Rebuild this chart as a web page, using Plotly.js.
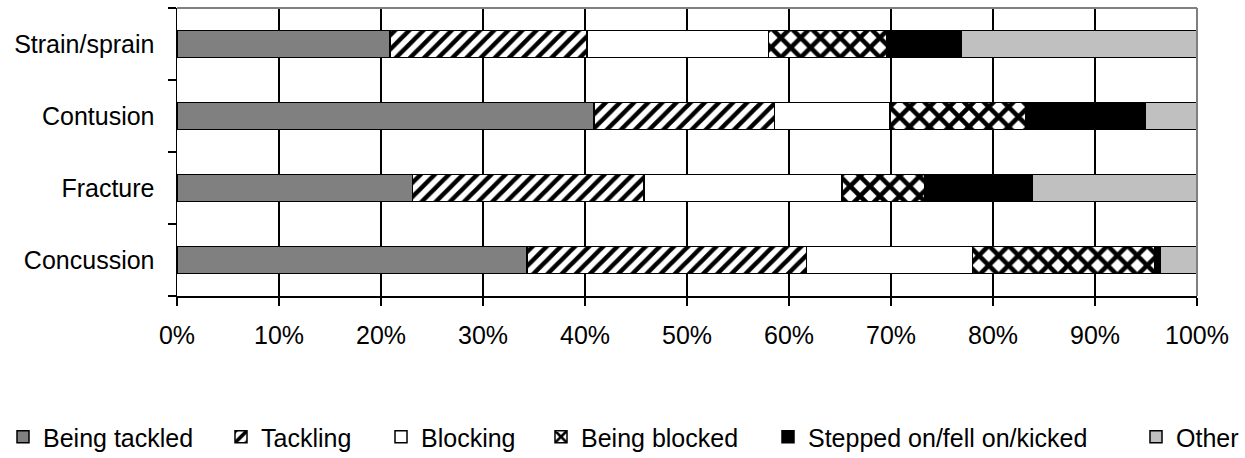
<!DOCTYPE html>
<html>
<head>
<meta charset="utf-8">
<script src="https://cdn.plot.ly/plotly-3.0.1.min.js"></script>
<style>html,body{margin:0;padding:0;background:#fff}#chart{width:1245px;height:458px}</style>
</head>
<body>
<div id="chart"></div>
<script>
// Categories (bottom to top)
const categories = ['Concussion', 'Fracture', 'Contusion', 'Strain/sprain'];
// Shares of each mechanism (fraction of 1), same order as categories
const beingTackled = [0.343, 0.231, 0.409, 0.209];
const tackling     = [0.274, 0.227, 0.177, 0.193];
const blocking     = [0.163, 0.194, 0.113, 0.178];
const beingBlocked = [0.179, 0.081, 0.133, 0.116];
const steppedOn    = [0.005, 0.105, 0.117, 0.073];
const other        = [0.036, 0.162, 0.051, 0.231];
const seriesNames = ['Being tackled', 'Tackling', 'Blocking', 'Being blocked', 'Stepped on/fell on/kicked', 'Other'];
const tickVals = [0, 0.1, 0.2, 0.3, 0.4, 0.5, 0.6, 0.7, 0.8, 0.9, 1.0];

const seriesValues = [beingTackled, tackling, blocking, beingBlocked, steppedOn, other];
const styles = [
  {color: '#808080'},
  {color: '#ffffff', pattern: {shape: '/', fgcolor: '#000', fgopacity: 1, bgcolor: '#fff', size: 10, solidity: 0.45, fillmode: 'replace'}},
  {color: '#ffffff'},
  {color: '#ffffff', pattern: {shape: 'x', fgcolor: '#000', fgopacity: 1, bgcolor: '#fff', size: 14, solidity: 0.55, fillmode: 'replace'}},
  {color: '#000000'},
  {color: '#c0c0c0'}
];
// legend entry left positions (container fraction) – layout only
const legendX = [3, 221, 381, 541, 768, 1136].map(p => p / 1245);

const FONT = 'Liberation Sans, Arial, sans-serif';
const FS = 25;

const legendIds = ['legend', 'legend2', 'legend3', 'legend4', 'legend5', 'legend6'];

const traces = seriesValues.map((vals, i) => ({
  type: 'bar',
  orientation: 'h',
  name: seriesNames[i],
  y: categories,
  x: vals,
  legend: legendIds[i],
  marker: Object.assign({line: {color: '#000', width: 1.5}}, styles[i].pattern ? {color: styles[i].color, pattern: styles[i].pattern} : {color: styles[i].color}),
  hoverinfo: 'x+name'
}));

const layout = {
  width: 1245, height: 458,
  margin: {l: 177, r: 48, t: 8, b: 162},
  barmode: 'stack',
  bargap: 0.62,
  paper_bgcolor: '#fff',
  plot_bgcolor: '#fff',
  font: {family: FONT, size: FS, color: '#000'},
  xaxis: {
    range: [0, 1],
    tickvals: tickVals,
    tickformat: '.0%',
    automargin: false,
    showgrid: true, gridcolor: '#000', gridwidth: 1.5,
    showline: true, linecolor: '#000', linewidth: 1.5,
    ticks: 'outside', ticklen: 8, tickcolor: '#000', tickwidth: 1.5,
    zeroline: false,
    ticklabelstandoff: 8,
    tickfont: {family: FONT, size: FS, color: '#000'},
    fixedrange: true
  },
  yaxis: {
    type: 'category',
    categoryorder: 'array', categoryarray: categories,
    automargin: false,
    showgrid: false,
    showline: true, linecolor: '#000', linewidth: 1.5,
    ticks: 'outside', ticklen: 8, tickcolor: '#000', tickwidth: 1.5,
    tickson: 'boundaries',
    ticklabelstandoff: 16,
    tickfont: {family: FONT, size: FS, color: '#000'},
    fixedrange: true
  },
  shapes: [
    {type: 'line', xref: 'paper', yref: 'paper', x0: 0, x1: 1, y0: 1, y1: 1, line: {color: '#808080', width: 2}},
    {type: 'line', xref: 'paper', yref: 'paper', x0: 1, x1: 1, y0: 0, y1: 1, line: {color: '#808080', width: 2}}
  ],
  showlegend: true
};

legendIds.forEach((id, i) => {
  layout[id] = {
    orientation: 'h',
    xref: 'container', yref: 'container',
    x: legendX[i], xanchor: 'left',
    y: 1 - 437 / 458, yanchor: 'middle',
    font: {family: FONT, size: FS, color: '#000'},
    itemwidth: 30,
    bgcolor: 'rgba(0,0,0,0)',
    borderwidth: 0
  };
});

Plotly.newPlot('chart', traces, layout, {displayModeBar: false, staticPlot: true});
</script>
</body>
</html>
